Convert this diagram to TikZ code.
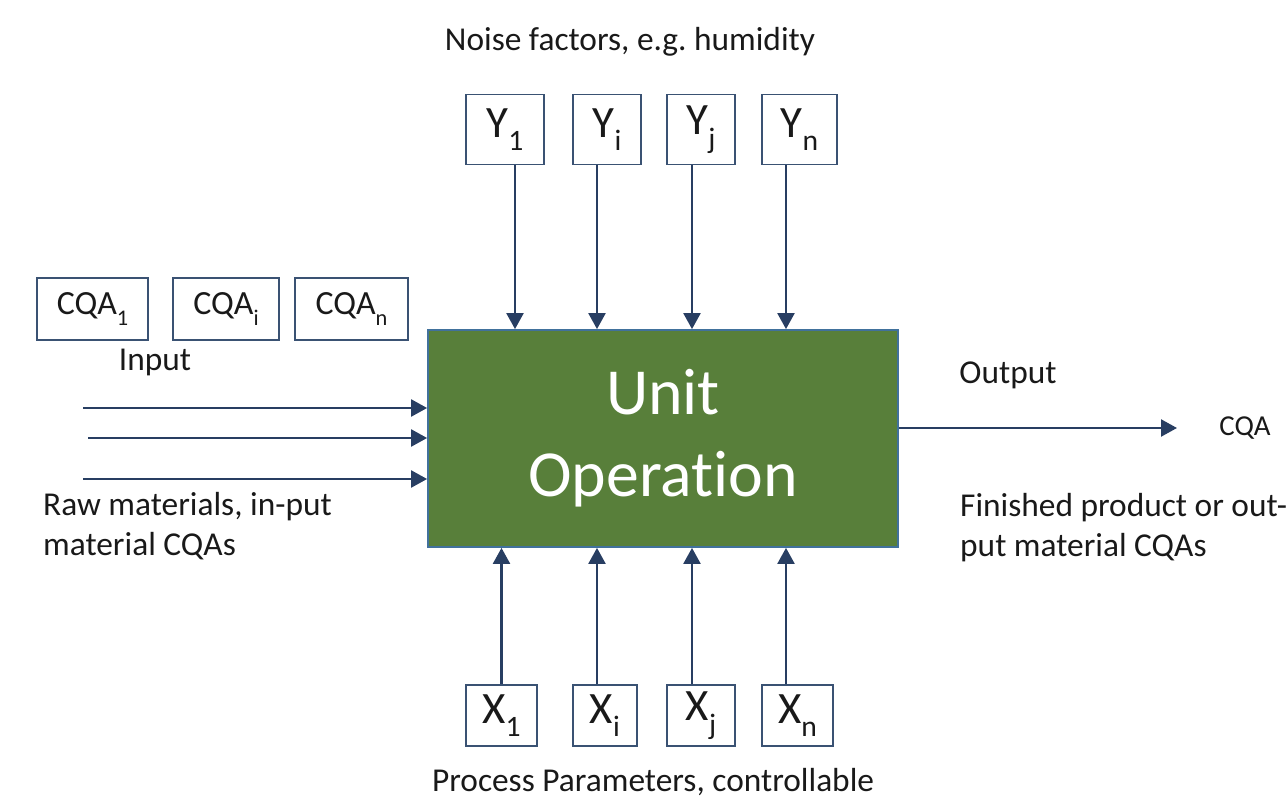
\documentclass[tikz,border=0pt]{standalone}
\usepackage{fontspec}
\setmainfont{Carlito}[Ligatures={NoCommon}]
\usetikzlibrary{arrows.meta}
\frenchspacing
\definecolor{boxgreen}{RGB}{88,127,58}
\definecolor{boxedge}{RGB}{65,113,156}
\definecolor{smalledge}{RGB}{58,82,115}
\definecolor{arrowc}{RGB}{40,62,98}
\definecolor{txt}{RGB}{25,25,25}
\tikzset{
  lbl/.style={text=txt, font=\fontsize{33.5}{40}\selectfont, inner sep=0pt},
  varbox/.style={draw=smalledge, line width=1.8bp, text=txt, font=\fontsize{45}{50}\selectfont, inner sep=0pt, minimum height=#1},
  cqabox/.style={draw=smalledge, line width=1.8bp, text=txt, font=\fontsize{34}{38}\selectfont, inner sep=0pt, minimum height=62bp},
  arr/.style={draw=arrowc, line width=2.3bp, -{Triangle[length=16bp,width=17bp]}}
}
\newcommand{\sbs}[1]{\raisebox{-0.3em}{\fontsize{0.66em}{1em}\selectfont #1}}
\begin{document}
\begin{tikzpicture}[x=1bp,y=-1bp]
\useasboundingbox (0,0) rectangle (1286,800);
% main box
\node[fill=boxgreen, draw=boxedge, line width=1.8bp, minimum width=470bp, minimum height=217bp, inner sep=0pt,
  text=white, font=\fontsize{66}{82}\selectfont, align=center] (U) at (663,438.5) {Unit\\Operation};
% noise boxes
\node[varbox=70bp, minimum width=78bp] (Y1) at (505,129.5) {Y\sbs{1}};
\node[varbox=70bp, minimum width=68bp] (Yi) at (607,129.5) {Y\sbs{i}};
\node[varbox=70bp, minimum width=68bp] (Yj) at (701,129.5) {Y\sbs{j}};
\node[varbox=70bp, minimum width=75bp] (Yn) at (799.5,129.5) {Y\sbs{n}};
\node[lbl] (noise) at (630,42) {Noise factors, e.g. humidity};
% process parameter boxes
\node[varbox=61bp, minimum width=71bp] (X1) at (501.5,715.5) {X\sbs{1}};
\node[varbox=61bp, minimum width=64bp] (Xi) at (605,715.5) {X\sbs{i}};
\node[varbox=61bp, minimum width=68bp] (Xj) at (701,715.5) {X\sbs{j}};
\node[varbox=61bp, minimum width=71bp] (Xn) at (797.5,715.5) {X\sbs{n}};
\node[lbl] (proc) at (653,782) {Process Parameters, controllable};
% CQA boxes
\node[cqabox, minimum width=111bp] (C1) at (92.5,309) {CQA\sbs{1}};
\node[cqabox, minimum width=106bp] (Ci) at (226,309) {CQA\sbs{i}};
\node[cqabox, minimum width=113bp] (Cn) at (351.5,309) {CQA\sbs{n}};
\node[lbl] (input) at (155,362) {Input};
\node[lbl, anchor=west, align=left] (raw) at (43,526) {Raw materials, in-put\\material CQAs};
% output side
\node[lbl] (output) at (1008,375) {Output};
\node[lbl, font=\fontsize{29}{32}\selectfont] (cqa) at (1245,428) {CQA};
\node[lbl, anchor=west, align=left] (fin) at (960,528) {Finished product or out-\\put material CQAs};
% noise arrows
\draw[arr] ([xshift=10bp]Y1.south) -- ([xshift=10bp]Y1.south |- U.north);
\draw[arr] ([xshift=-10bp]Yi.south) -- ([xshift=-10bp]Yi.south |- U.north);
\draw[arr] ([xshift=-9bp]Yj.south) -- ([xshift=-9bp]Yj.south |- U.north);
\draw[arr] ([xshift=-13.5bp]Yn.south) -- ([xshift=-13.5bp]Yn.south |- U.north);
% process arrows
\draw[arr] (X1.north) -- (X1.north |- U.south);
\draw[arr] ([xshift=-8bp]Xi.north) -- ([xshift=-8bp]Xi.north |- U.south);
\draw[arr] ([xshift=-9bp]Xj.north) -- ([xshift=-9bp]Xj.north |- U.south);
\draw[arr] ([xshift=-11.5bp]Xn.north) -- ([xshift=-11.5bp]Xn.north |- U.south);
% input arrows
\coordinate (in1) at (83,408);
\coordinate (in2) at (88,438);
\coordinate (in3) at (83,479);
\draw[arr] (in1) -- (in1 -| U.west);
\draw[arr] (in2) -- (in2 -| U.west);
\draw[arr] (in3) -- (in3 -| U.west);
% output arrow
\coordinate (out) at (1177,428);
\draw[arr] (out -| U.east) -- (out);
\end{tikzpicture}
\end{document}
